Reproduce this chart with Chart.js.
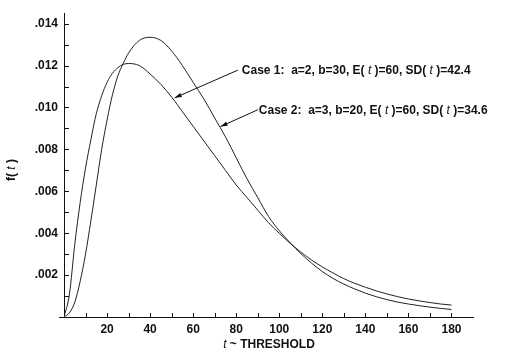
<!DOCTYPE html>
<html>
<head>
<meta charset="utf-8">
<script src="https://cdn.jsdelivr.net/npm/chart.js@4/dist/chart.umd.min.js"></script>
<style>
  html, body { margin: 0; padding: 0; background: #fff; }
  #wrap { width: 522px; height: 352px; position: relative; }
</style>
</head>
<body>
<div id="wrap"><canvas id="chart"></canvas></div>
<script>
// Case 1: a=2, b=30
const tCase1 = [0, 2.5, 5, 7.5, 10, 12.5, 15, 20, 25, 30, 35, 40, 45, 50, 55, 60, 65, 70, 75, 80, 85, 90, 95, 100, 105, 110, 115, 120, 125, 130, 135, 140, 145, 150, 155, 160, 165, 170, 175, 180];
const fCase1 = [0, .00107, .00346, .00546, .00711, .00847, .0097, .0112, .0119, .0121, .0120, .0116, .0111, .0105, .0098, .0091, .0084, .0077, .0070, .0063, .0057, .0051, .0045, .0040, .00352, .00310, .00272, .00239, .0021, .00183, .00161, .00142, .00125, .00110, .00097, .00086, .00077, .00069, .00062, .00057];

// Case 2: a=3, b=20
const tCase2 = [0, 2.5, 5, 7.5, 10, 12.5, 15, 17.5, 20, 22.5, 25, 27.5, 30, 35, 40, 45, 50, 55, 60, 65, 70, 75, 80, 85, 90, 95, 100, 105, 110, 115, 120, 125, 130, 135, 140, 145, 150, 155, 160, 165, 170, 175, 180];
const fCase2 = [0, .0002, .0007, .0017, .0030, .0046, .0063, .0080, .0094, .0106, .0115, .0121, .0126, .0132, .01335, .0132, .0127, .0120, .0112, .0104, .0095, .0086, .0076, .0066, .0057, .0048, .00412, .00355, .00303, .00257, .00217, .00184, .00157, .00134, .00114, .00097, .00083, .00071, .00062, .00054, .00047, .00041, .00036];

// Axis ticks
const xTickMarks = [10, 20, 30, 40, 50, 60, 70, 80, 90, 100, 110, 120, 130, 140, 150, 160, 170, 180];
const xLabelTicks = [20, 40, 60, 80, 100, 120, 140, 160, 180];
const yTickMarks = [0, .001, .002, .003, .004, .005, .006, .007, .008, .009, .010, .011, .012, .013, .014];
const yLabelTicks = ['.002', '.004', '.006', '.008', '.010', '.012', '.014'];

// Annotation texts (each part: text, italic?)
const case1Text = [['Case 1:  a=2, b=30, E( ', false], ['t', true], [' )=60, SD( ', false], ['t', true], [' )=42.4', false]];
const case2Text = [['Case 2:  a=3, b=20, E( ', false], ['t', true], [' )=60, SD( ', false], ['t', true], [' )=34.6', false]];
// Arrow anchors in data units: text start, line start, arrow tip
const case1Anchor = { text: [82.6, .01178], from: [80.7, .01178], to: [51.4, .01046] };
const case2Anchor = { text: [90.5, .00986], from: [90, .00989], to: [72.7, .00909] };

const BOLD = 'bold 12px "Liberation Sans", Arial, sans-serif';
const ITAL = 'italic 12px "Liberation Sans", Arial, sans-serif';

function drawRich(ctx, parts, x, y, align) {
    let w = 0;
    for (const [s, it] of parts) { ctx.font = it ? ITAL : BOLD; w += ctx.measureText(s).width; }
    let cx = align === 'center' ? x - w / 2 : x;
    ctx.textAlign = 'left';
    for (const [s, it] of parts) {
        ctx.font = it ? ITAL : BOLD;
        ctx.fillText(s, cx, y);
        cx += ctx.measureText(s).width;
    }
}

function arrow(ctx, x1, y1, x2, y2) {
    ctx.beginPath(); ctx.moveTo(x1, y1); ctx.lineTo(x2, y2); ctx.stroke();
    const a = Math.atan2(y2 - y1, x2 - x1), L = 7, W = 2.2;
    ctx.beginPath();
    ctx.moveTo(x2, y2);
    ctx.lineTo(x2 - L * Math.cos(a) + W * Math.sin(a), y2 - L * Math.sin(a) - W * Math.cos(a));
    ctx.lineTo(x2 - L * Math.cos(a) - W * Math.sin(a), y2 - L * Math.sin(a) + W * Math.cos(a));
    ctx.closePath(); ctx.fill();
}

// inward tick marks, axis titles and callouts
const decor = {
    id: 'decor',
    afterDraw(chart) {
        const { ctx, scales: { x, y }, chartArea } = chart;
        ctx.save();
        ctx.strokeStyle = '#111'; ctx.fillStyle = '#111'; ctx.lineWidth = 1;
        ctx.beginPath();
        for (const v of xTickMarks) {
            const px = Math.round(x.getPixelForValue(v)) + 0.5;
            ctx.moveTo(px, chartArea.bottom); ctx.lineTo(px, chartArea.bottom - 4);
        }
        for (const v of yTickMarks) {
            const py = Math.round(y.getPixelForValue(v)) + 0.5;
            ctx.moveTo(chartArea.left, py); ctx.lineTo(chartArea.left + 5, py);
        }
        const p0 = Math.round(y.getPixelForValue(0)) + 0.5;
        ctx.moveTo(chartArea.left - 5, p0); ctx.lineTo(chartArea.left, p0);
        ctx.stroke();

        ctx.textBaseline = 'middle';
        // x title
        drawRich(ctx, [['t', true], [' ~ THRESHOLD', false]], 269, 345, 'center');
        // y title
        ctx.save();
        ctx.translate(12, 170); ctx.rotate(-Math.PI / 2);
        drawRich(ctx, [['f( ', false], ['t', true], [' )', false]], 0, 0, 'center');
        ctx.restore();

        for (const [an, txt] of [[case1Anchor, case1Text], [case2Anchor, case2Text]]) {
            arrow(ctx, x.getPixelForValue(an.from[0]), y.getPixelForValue(an.from[1]),
                       x.getPixelForValue(an.to[0]), y.getPixelForValue(an.to[1]));
            drawRich(ctx, txt, x.getPixelForValue(an.text[0]), y.getPixelForValue(an.text[1]), 'left');
        }
        ctx.restore();
    }
};

const lineStyle = { borderColor: '#222', borderWidth: 1, pointRadius: 0, fill: false, cubicInterpolationMode: 'monotone' };
const tickFont = { family: '"Liberation Sans", Arial, sans-serif', size: 12, weight: 'bold' };

new Chart(document.getElementById('chart'), {
    type: 'line',
    data: {
        datasets: [
            { label: 'Case 1', data: tCase1.map((t, i) => ({ x: t, y: fCase1[i] })), ...lineStyle },
            { label: 'Case 2', data: tCase2.map((t, i) => ({ x: t, y: fCase2[i] })), ...lineStyle }
        ]
    },
    options: {
        responsive: true, maintainAspectRatio: false, animation: false,
        layout: { padding: { top: 10, right: 49, left: 0, bottom: 0 } },
        plugins: { legend: { display: false }, tooltip: { enabled: false } },
        scales: {
            x: {
                type: 'linear', min: 0, max: 190,
                afterFit: s => { s.height = 35; },
                afterBuildTicks: s => { s.ticks = xLabelTicks.map(v => ({ value: v })); },
                grid: { display: true, drawOnChartArea: false, drawTicks: false },
                border: { display: true, color: '#111', width: 1 },
                ticks: { autoSkip: false, maxRotation: 0, padding: 5, color: '#111', font: tickFont,
                         callback: v => String(v) }
            },
            y: {
                min: 0, max: 0.0145,
                afterFit: s => { s.width = 64; },
                afterBuildTicks: s => { s.ticks = yLabelTicks.map(l => ({ value: parseFloat(l) })); },
                grid: { display: true, drawOnChartArea: false, drawTicks: false },
                border: { display: true, color: '#111', width: 1 },
                ticks: { autoSkip: false, padding: 6, color: '#111', font: tickFont,
                         callback: (v, i) => yLabelTicks[i] }
            }
        }
    },
    plugins: [decor]
});
</script>
</body>
</html>
